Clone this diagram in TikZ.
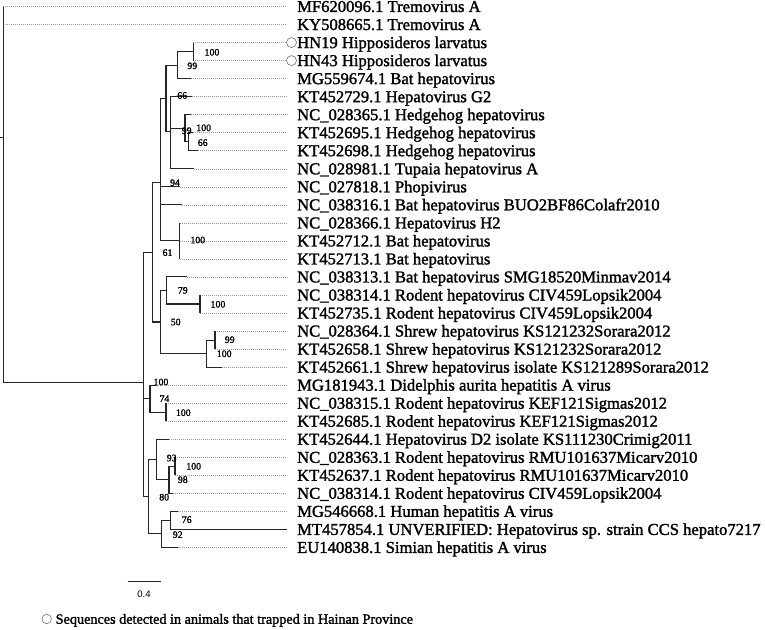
\documentclass[tikz,border=0pt]{standalone}
\usepackage{fontspec}
\setmainfont{Liberation Serif}[FakeBold=0.35]
\newfontfamily\arialf{Liberation Sans}
\newfontfamily\heavyserif{Liberation Serif}[FakeBold=1.6]
\begin{document}
\begin{tikzpicture}[x=1pt,y=-1pt,
  br/.style={draw=black!85, line width=1.1pt},
  lead/.style={draw=black!40, line width=0.6pt, dash pattern=on 0.8pt off 1.2pt, shorten >=10pt},
  leaf/.style={anchor=west, inner sep=0pt, text height=11pt, text depth=0pt, font=\heavyserif\fontsize{16.6}{18}\selectfont},
  bs/.style={inner sep=0pt, font=\heavyserif\fontsize{9.8}{10}\selectfont},
  hn/.style={circle, draw=black!55, line width=0.6pt, minimum size=10pt, inner sep=0pt}]
\useasboundingbox[fill=white] (0,0) rectangle (765,629);

% ---- internal nodes
\coordinate (rs) at (0,137.9);
\coordinate (root) at (3.3,137.9);
\coordinate (F) at (143.3,382.6);
\coordinate (E) at (152.7,252.35);
\coordinate (C) at (160.3,182.7);
\coordinate (B) at (166,98.15);
\coordinate (U) at (177.7,65.1);
\coordinate (HN) at (193.3,51.6);
\coordinate (A) at (170.7,131.2);
\coordinate (V) at (185,128.2);
\coordinate (W) at (188.5,141.7);
\coordinate (D) at (179.5,240.9);
\coordinate (G) at (160.3,322);
\coordinate (H) at (166.5,290.45);
\coordinate (J) at (200,304);
\coordinate (I) at (206.7,353.6);
\coordinate (K) at (215,340.05);
\coordinate (L) at (150,398.65);
\coordinate (N) at (166,412.2);
\coordinate (O) at (148.3,496.7);
\coordinate (P) at (156.7,459.5);
\coordinate (Q) at (169,479.8);
\coordinate (R) at (175,466.3);
\coordinate (S) at (161.7,533.9);
\coordinate (T) at (170.7,520.35);

% ---- leaf tips
\coordinate (t0) at (3.3,6.5);
\coordinate (t1) at (3.3,24.5);
\coordinate (t2) at (193.3,42.6);
\coordinate (t3) at (193.3,60.6);
\coordinate (t4) at (191,78.6);
\coordinate (t5) at (191.7,96.7);
\coordinate (t6) at (190.5,114.7);
\coordinate (t7) at (193.3,132.7);
\coordinate (t8) at (198.3,150.7);
\coordinate (t9) at (194,168.8);
\coordinate (t10) at (180,186.8);
\coordinate (t11) at (181.7,204.8);
\coordinate (t12) at (179.5,222.9);
\coordinate (t13) at (179.5,240.9);
\coordinate (t14) at (179.5,258.9);
\coordinate (t15) at (186.7,276.9);
\coordinate (t16) at (200,295.0);
\coordinate (t17) at (200,313.0);
\coordinate (t18) at (215,331.0);
\coordinate (t19) at (215,349.1);
\coordinate (t20) at (221.7,367.1);
\coordinate (t21) at (156,385.1);
\coordinate (t22) at (166,403.2);
\coordinate (t23) at (166,421.2);
\coordinate (t24) at (169.3,439.2);
\coordinate (t25) at (175,457.3);
\coordinate (t26) at (175,475.3);
\coordinate (t27) at (173.3,493.3);
\coordinate (t28) at (178.3,511.3);
\coordinate (t29) at (287,529.4);
\coordinate (t30) at (178.3,547.4);

% ---- leaf labels
\node[leaf] (l0) at (297,6.5) {MF620096.1 Tremovirus A};
\node[leaf] (l1) at (297,24.5) {KY508665.1 Tremovirus A};
\node[leaf] (l2) at (297,42.6) {HN19 Hipposideros larvatus};
\node[leaf] (l3) at (297,60.6) {HN43 Hipposideros larvatus};
\node[leaf] (l4) at (297,78.6) {MG559674.1 Bat hepatovirus};
\node[leaf] (l5) at (297,96.7) {KT452729.1 Hepatovirus G2};
\node[leaf] (l6) at (297,114.7) {NC\_028365.1 Hedgehog hepatovirus};
\node[leaf] (l7) at (297,132.7) {KT452695.1 Hedgehog hepatovirus};
\node[leaf] (l8) at (297,150.7) {KT452698.1 Hedgehog hepatovirus};
\node[leaf] (l9) at (297,168.8) {NC\_028981.1 Tupaia hepatovirus A};
\node[leaf] (l10) at (297,186.8) {NC\_027818.1 Phopivirus};
\node[leaf] (l11) at (297,204.8) {NC\_038316.1 Bat hepatovirus BUO2BF86Colafr2010};
\node[leaf] (l12) at (297,222.9) {NC\_028366.1 Hepatovirus H2};
\node[leaf] (l13) at (297,240.9) {KT452712.1 Bat hepatovirus};
\node[leaf] (l14) at (297,258.9) {KT452713.1 Bat hepatovirus};
\node[leaf] (l15) at (297,276.9) {NC\_038313.1 Bat hepatovirus SMG18520Minmav2014};
\node[leaf] (l16) at (297,295.0) {NC\_038314.1 Rodent hepatovirus CIV459Lopsik2004};
\node[leaf] (l17) at (297,313.0) {KT452735.1 Rodent hepatovirus CIV459Lopsik2004};
\node[leaf] (l18) at (297,331.0) {NC\_028364.1 Shrew hepatovirus KS121232Sorara2012};
\node[leaf] (l19) at (297,349.1) {KT452658.1 Shrew hepatovirus KS121232Sorara2012};
\node[leaf] (l20) at (297,367.1) {KT452661.1 Shrew hepatovirus isolate KS121289Sorara2012};
\node[leaf] (l21) at (297,385.1) {MG181943.1 Didelphis aurita hepatitis A virus};
\node[leaf] (l22) at (297,403.2) {NC\_038315.1 Rodent hepatovirus KEF121Sigmas2012};
\node[leaf] (l23) at (297,421.2) {KT452685.1 Rodent hepatovirus KEF121Sigmas2012};
\node[leaf] (l24) at (297,439.2) {KT452644.1 Hepatovirus D2 isolate KS111230Crimig2011};
\node[leaf] (l25) at (297,457.3) {NC\_028363.1 Rodent hepatovirus RMU101637Micarv2010};
\node[leaf] (l26) at (297,475.3) {KT452637.1 Rodent hepatovirus RMU101637Micarv2010};
\node[leaf] (l27) at (297,493.3) {NC\_038314.1 Rodent hepatovirus CIV459Lopsik2004};
\node[leaf] (l28) at (297,511.3) {MG546668.1 Human hepatitis A virus};
\node[leaf] (l29) at (297,529.4) {MT457854.1 UNVERIFIED: Hepatovirus sp. strain CCS hepato7217};
\node[leaf] (l30) at (297,547.4) {EU140838.1 Simian hepatitis A virus};

% ---- circles for Hainan sequences
\node[hn] (c2) at (291.5,42.6) {};
\node[hn] (c3) at (291.5,60.6) {};

% ---- dotted leaders
\foreach \i in {0,1,4,5,6,7,8,9,10,11,12,13,14,15,16,17,18,19,20,21,22,23,24,25,26,27,28,30}
  \draw[lead] (t\i) -- (l\i.west);
\draw[lead, shorten >=0pt] (t2) -- (c2.west);
\draw[lead, shorten >=0pt] (t3) -- (c3.west);

% ---- branches
\draw[br] (rs) -- (root);
\draw[br] (root) |- (t0);
\draw[br] (root) |- (t1);
\draw[br] (root) |- (F);
\draw[br] (F) |- (E);
\draw[br] (F) |- (L);
\draw[br] (F) |- (O);
\draw[br] (E) |- (C);
\draw[br] (E) |- (G);
\draw[br] (C) |- (B);
\draw[br] (C) |- (t10);
\draw[br] (C) |- (t11);
\draw[br] (C) |- (D);
\draw[br] (B) |- (U);
\draw[br] (B) |- (A);
\draw[br] (U) |- (HN);
\draw[br] (U) |- (t4);
\draw[br] (HN) |- (t2);
\draw[br] (HN) |- (t3);
\draw[br] (A) |- (t5);
\draw[br] (A) |- (V);
\draw[br] (A) |- (t9);
\draw[br] (V) |- (t6);
\draw[br] (V) |- (W);
\draw[br] (W) |- (t7);
\draw[br] (W) |- (t8);
\draw[br] (D) |- (t12);
\draw[br] (D) |- (t13);
\draw[br] (D) |- (t14);
\draw[br] (G) |- (H);
\draw[br] (G) |- (I);
\draw[br] (H) |- (t15);
\draw[br] (H) |- (J);
\draw[br] (J) |- (t16);
\draw[br] (J) |- (t17);
\draw[br] (I) |- (K);
\draw[br] (I) |- (t20);
\draw[br] (K) |- (t18);
\draw[br] (K) |- (t19);
\draw[br] (L) |- (t21);
\draw[br] (L) |- (N);
\draw[br] (N) |- (t22);
\draw[br] (N) |- (t23);
\draw[br] (O) |- (P);
\draw[br] (O) |- (S);
\draw[br] (P) |- (t24);
\draw[br] (P) |- (Q);
\draw[br] (Q) |- (R);
\draw[br] (Q) |- (t27);
\draw[br] (R) |- (t25);
\draw[br] (R) |- (t26);
\draw[br] (S) |- (T);
\draw[br] (S) |- (t30);
\draw[br] (T) |- (t28);
\draw[br] (T) |- (t29);

% ---- bootstrap values
\node[bs] (b1) at (212,52.3) {100};
\node[bs] (b2) at (192.3,65.8) {99};
\node[bs] (b3) at (182.2,95.5) {66};
\node[bs] (b4) at (186.7,130.7) {99};
\node[bs] (b5) at (203.7,127.8) {100};
\node[bs] (b6) at (202.7,142.7) {66};
\node[bs] (b7) at (175,182.7) {94};
\node[bs] (b8) at (197.8,240) {100};
\node[bs] (b9) at (167.5,252.7) {61};
\node[bs] (b10) at (182.8,290.3) {79};
\node[bs] (b11) at (218,304.3) {100};
\node[bs] (b12) at (175.7,322) {50};
\node[bs] (b13) at (229.7,339.7) {99};
\node[bs] (b14) at (224.2,353.7) {100};
\node[bs] (b15) at (161,382) {100};
\node[bs] (b16) at (164.5,398.5) {74};
\node[bs] (b17) at (183.3,412.7) {100};
\node[bs] (b18) at (171.7,458) {93};
\node[bs] (b19) at (193.7,466.3) {100};
\node[bs] (b20) at (182.8,479.7) {98};
\node[bs] (b21) at (164.2,497.2) {80};
\node[bs] (b22) at (186.7,519.7) {76};
\node[bs] (b23) at (177.7,534.7) {92};

% ---- scale bar
\coordinate (sb1) at (127.7,581.7);
\coordinate (sb2) at (160.7,581.7);
\draw[draw=black!85, line width=0.9pt] (sb1) -- (sb2);
\node[inner sep=0pt, font=\arialf\fontsize{9.5}{10}\selectfont] (sbl) at (144,594.5) {0.4};

% ---- legend
\node[hn, minimum size=9.5pt] (lc) at (46.7,619) {};
\node[anchor=west, inner sep=0pt, text height=9.5pt, text depth=0pt, font=\heavyserif\fontsize{14.2}{16}\selectfont] (lt) at (55.5,619) {Sequences detected in animals that trapped in Hainan Province};
\end{tikzpicture}
\end{document}
